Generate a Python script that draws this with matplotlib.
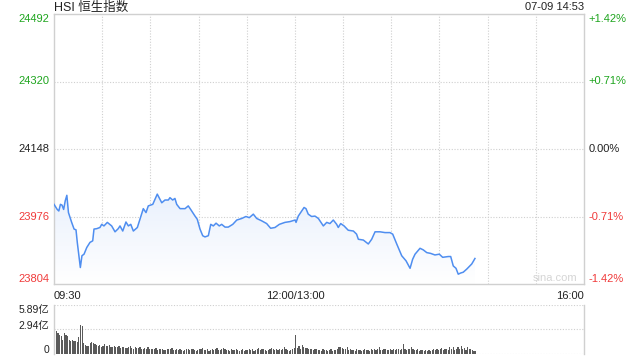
import matplotlib
matplotlib.use("Agg")
import matplotlib.pyplot as plt
import numpy as np
from matplotlib.patches import Polygon

plt.rcParams['font.family'] = ['Liberation Sans', 'Noto Sans CJK SC', 'DejaVu Sans']

# trading minutes since 09:30 (lunch break removed), and index level
minutes = [0, 2, 3, 4, 5, 6, 7, 8, 9, 11, 12.5, 13.7, 14.5, 15.4, 16.4, 17.4, 18.7,
           20.4, 22.4, 24.1, 24.9, 26.6, 28.6, 29.7, 31.1, 33.2, 35.9, 38.0, 40.0,
           41.1, 42.8, 44.8, 46.3, 47.8, 49.4, 51.9, 53.5, 55.6, 57.3, 58.7, 61.5,
           62.9, 64.3, 67.1, 69.1, 71.2, 72.2, 73.9, 75.3, 76.4, 78.5, 81.6, 83.6,
           85.1, 87.8, 89.2, 90.9, 92.6, 94.0, 96.1, 97.6, 99.2, 100.9, 102.9, 104.4,
           106.5, 108.5, 111.3, 113.8, 116.9, 119.5, 121.6, 124.1, 126.2, 129.3,
           132.4, 134.9, 137.6, 140.3, 143.8, 146.9, 150.1, 150.7, 152.1, 154.2,
           155.7, 156.9, 158.3, 160.4, 162.5, 164.6, 165.6, 167.7, 169.8, 171.8,
           173.9, 176.0, 177.0, 178.5, 180.6, 183.2, 186.4, 188.4, 189.5, 192.6,
           195.7, 197.8, 199.9, 203.0, 206.1, 209.2, 210.9, 213.4, 216.5, 219.2,
           221.7, 223.3, 224.8, 227.9, 229.9, 232.1, 234.5, 237.2, 239.9, 242.0,
           245.5, 247.0, 248.6, 250.3, 251.7, 253.2, 254.8, 257.0, 260.1, 262.1]
prices = [24007, 23994, 23990, 24007, 24005, 23994, 24016, 24030, 23986, 23961,
          23944, 23942, 23910, 23880, 23846, 23876, 23880, 23897, 23910, 23914,
          23944, 23945, 23948, 23956, 23952, 23961, 23952, 23937, 23945, 23952,
          23939, 23962, 23952, 23956, 23939, 23948, 23969, 23996, 23986, 24003,
          24007, 24020, 24033, 24011, 24018, 24018, 24024, 24018, 24022, 24007,
          23996, 23996, 24003, 23994, 23977, 23969, 23944, 23927, 23924, 23927,
          23956, 23952, 23959, 23952, 23956, 23949, 23949, 23956, 23967, 23971,
          23976, 23973, 23982, 23971, 23965, 23958, 23946, 23948, 23956, 23961,
          23963, 23967, 23961, 23977, 23990, 23999, 23996, 23982, 23976, 23977,
          23971, 23965, 23952, 23961, 23958, 23967, 23956, 23948, 23958, 23952,
          23941, 23939, 23931, 23918, 23916, 23906, 23918, 23937, 23937, 23935,
          23935, 23931, 23906, 23876, 23863, 23844, 23867, 23880, 23895, 23891,
          23884, 23882, 23878, 23880, 23872, 23874, 23874, 23850, 23844, 23829,
          23832, 23834, 23842, 23855, 23869]

# turnover per minute, in 亿
volume = [3.0, 2.7, 2.5, 2.3, 2.1, 1.7, 2.5, 2.3, 2.1, 1.7, 1.5, 1.6, 1.5, 1.5, 1.35, 2.0, 3.45, 3.4, 1.25, 1.0,
          0.9, 0.95, 1.3, 1.35, 1.3, 1.1, 1.0, 0.9, 1.0, 0.85, 0.9, 1.1, 0.95, 0.9, 1.0, 0.85, 0.8, 0.9, 0.75, 0.8,
          0.9, 0.7, 0.75, 0.85, 0.7, 0.65, 0.8, 0.9, 0.7, 0.6, 0.75, 0.65, 0.7, 0.8, 0.6, 0.55, 0.7, 0.6, 0.75, 0.5,
          0.55, 0.6, 0.5, 0.65, 0.45, 0.5, 0.6, 0.5, 0.4, 0.45, 0.55, 0.6, 0.5, 0.7, 0.45, 0.4, 0.5, 0.45, 0.55, 0.4,
          0.35, 0.45, 0.5, 0.6, 0.4, 0.5, 0.55, 0.45, 0.35, 0.4, 0.55, 0.5, 0.7, 0.45, 0.4, 0.5, 0.35, 0.45, 0.6, 0.4,
          0.5, 0.65, 0.45, 0.4, 0.55, 0.7, 0.5, 0.45, 0.4, 0.35, 0.5, 0.45, 0.4, 0.6, 0.45, 0.35, 0.4, 0.5, 0.35, 0.45,
          0.4, 0.55, 0.45, 0.5, 0.35, 0.4, 0.6, 0.7, 0.45, 0.5, 0.55, 0.4, 0.35, 0.45, 0.5, 0.7, 0.55, 0.4, 0.6, 0.45,
          0.5, 0.4, 0.6, 0.75, 0.5, 0.45, 0.35, 0.4, 0.5, 0.65,
          2.2, 0.7, 0.9, 0.6, 1.0, 0.85, 0.65, 0.7, 0.55, 0.5, 0.6, 0.45, 0.5, 0.55, 0.4, 0.45, 0.35, 0.5, 0.4, 0.45,
          0.35, 0.4, 0.5, 0.35, 0.4, 0.45, 0.6, 0.75, 0.8, 0.7, 0.5, 0.55, 0.8, 0.45, 0.5, 0.4, 0.45, 0.35, 0.5, 0.4,
          0.45, 0.35, 0.4, 0.5, 0.45, 0.4, 0.35, 0.5, 0.45, 0.55, 0.4, 0.6, 0.75, 0.45, 0.4, 0.5, 0.55, 0.45, 0.4, 0.5,
          0.45, 0.6, 0.4, 0.5, 0.55, 0.45, 0.6, 1.1, 0.5, 0.45, 0.6, 0.55, 0.75, 0.5, 0.45, 0.4, 0.5, 0.35, 0.45, 0.4,
          0.35, 0.4, 0.3, 0.45, 0.35, 0.4, 0.5, 0.45, 0.6, 0.4, 0.5, 0.7, 0.45, 0.55, 0.6, 0.4, 0.75, 0.5, 0.8, 0.45,
          0.6, 0.85, 0.5, 0.9, 0.55, 0.7, 0.45, 0.8, 0.6, 0.5, 0.45, 0.35, 0.3]

prev_close = 24148
y_ticks = [24492, 24320, 24148, 23976, 23804]
pct_labels = ['+1.42%', '+0.71%', '0.00%', '-0.71%', '-1.42%']
vol_ticks = [5.89, 2.94, 0]
vol_labels = ['5.89亿', '2.94亿', '0']
title = 'HSI 恒生指数'
stamp = '07-09 14:53'

GREEN = '#1ea51e'
RED = '#f03a3a'
GRID = '#cfcfcf'
EDGE = '#d0d0d0'
TEXT = '#222222'
TOTAL = 330

fig = plt.figure(figsize=(6.4, 3.6), dpi=100)
ax = fig.add_axes([54/640, 1-284/360, 530/640, 270/360])
vax = fig.add_axes([54/640, 1-353.5/360, 530/640, 48.5/360])

ax.set_xlim(0, TOTAL)
ax.set_ylim(y_ticks[-1], y_ticks[0])

# gradient fill under the line
xs = np.array(minutes)
ys = np.array(prices)
grad = np.linspace(0, 1, 256).reshape(-1, 1)
top_c = np.array([0.91, 0.94, 0.99])
bot_c = np.array([1.0, 1.0, 1.0])
img = top_c + (bot_c - top_c) * grad
img = img.reshape(256, 1, 3)
im = ax.imshow(img, aspect='auto', extent=[0, TOTAL, y_ticks[-1], 24050],
               origin='upper', zorder=1)
poly = Polygon(np.column_stack([np.r_[xs, xs[-1], xs[0]],
                                np.r_[ys, y_ticks[-1], y_ticks[-1]]]),
               closed=True, facecolor='none', edgecolor='none')
ax.add_patch(poly)
im.set_clip_path(poly)

ax.plot(xs, ys, color='#4f8ef0', lw=1.1, zorder=3)

for v in y_ticks[1:-1]:
    ax.axhline(v, color=GRID, lw=0.8, ls=(0, (1, 1.5)), zorder=0)
for t in range(30, TOTAL, 30):
    ax.axvline(t, color=GRID, lw=0.8, ls=(0, (1, 1.5)), zorder=0)

for a in (ax, vax):
    for s in a.spines.values():
        s.set_color(EDGE)
        s.set_linewidth(1)
    a.set_xticks([])
    a.set_yticks([])
    a.set_xlim(0, TOTAL)

# left / right axis labels
for i, (v, p) in enumerate(zip(y_ticks, pct_labels)):
    c = GREEN if v > prev_close else (RED if v < prev_close else TEXT)
    va = 'top' if i == 0 else ('bottom' if i == len(y_ticks) - 1 else 'center')
    ax.text(-3.0, v, str(v), color=c, fontsize=8, ha='right', va=va)
    ax.text(TOTAL + 3.0, v, p, color=c, fontsize=8, ha='left', va=va)

fig.text(54/640, 1-7.5/360, title, fontsize=9, color=TEXT, ha='left', va='center')
fig.text(584/640, 1-7.5/360, stamp, fontsize=8, color=TEXT, ha='right', va='center')
ax.text(TOTAL - 18, y_ticks[-1] + 2, 'sina.com', fontsize=8, color='#d5d5d5',
        ha='center', va='bottom')

# time labels
ax.text(0, -0.025, '09:30', transform=ax.transAxes, fontsize=8, color=TEXT, ha='left', va='top')
ax.text(150/TOTAL, -0.025, '12:00/13:00', transform=ax.transAxes, fontsize=8, color=TEXT, ha='center', va='top')
ax.text(1, -0.025, '16:00', transform=ax.transAxes, fontsize=8, color=TEXT, ha='right', va='top')

# volume panel
vax.set_ylim(0, vol_ticks[0])
vax.spines['top'].set_visible(False)
vax.spines['bottom'].set_visible(False)
for v in vol_ticks:
    vax.axhline(v, color=GRID, lw=0.8, ls=(0, (1, 1.5)), zorder=0)
vax.bar(np.arange(len(volume)) + 0.5, volume, width=0.75, color='#5a5a5a', zorder=2)
vax.text(-3.0, 5.3, vol_labels[0], fontsize=7.5, color=TEXT, ha='right', va='center')
vax.text(-3.0, 3.4, vol_labels[1], fontsize=7.5, color=TEXT, ha='right', va='center')
vax.text(-3.0, 0.4, vol_labels[2], fontsize=7.5, color=TEXT, ha='right', va='center')

fig.savefig('out.png', dpi=100)
